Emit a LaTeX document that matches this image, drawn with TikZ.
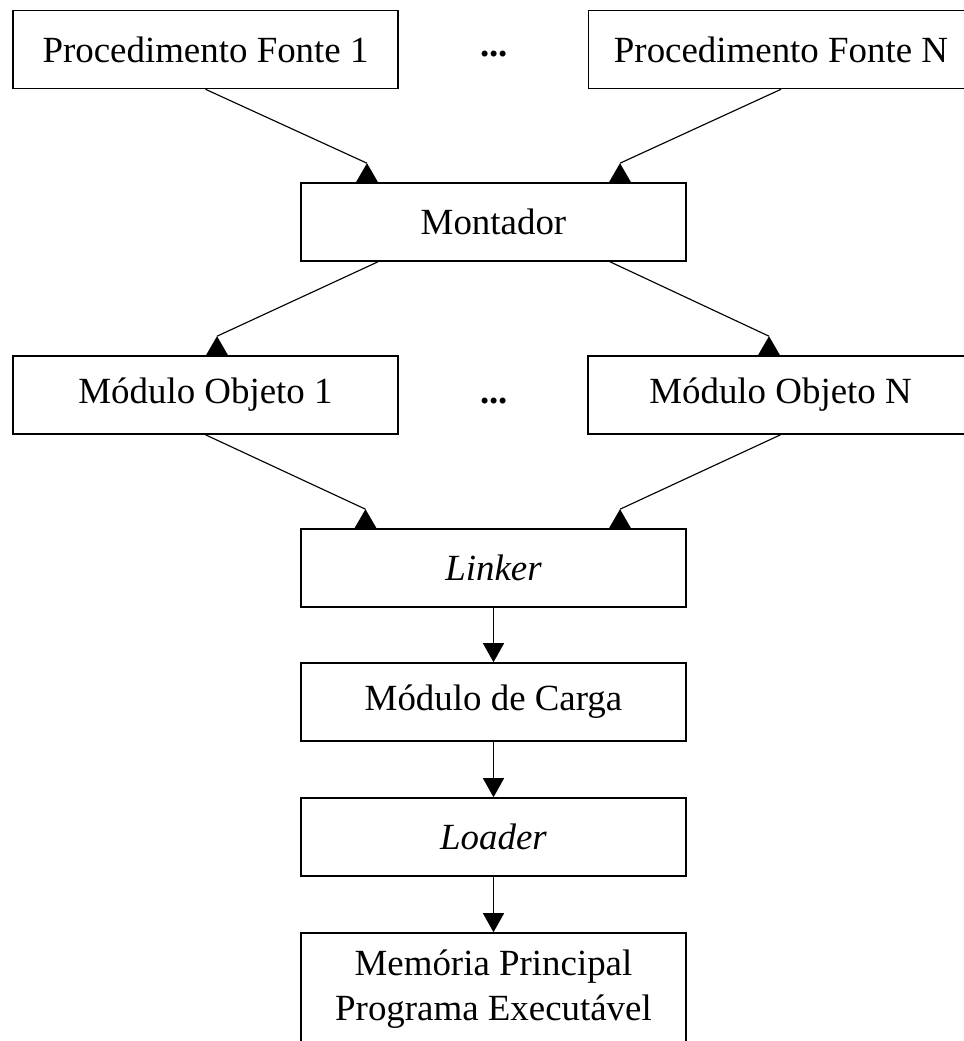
\documentclass[tikz,border=0pt]{standalone}
\usepackage{fontspec}
\setmainfont{Liberation Serif}
\usetikzlibrary{arrows.meta}

\begin{document}
\begin{tikzpicture}[
    every node/.style={font=\fontsize{21}{25.5}\selectfont},
    etapa/.style={draw, line width=0.9pt, minimum width=7.7cm, minimum height=1.56cm, align=center, inner sep=0pt},
    liga/.style={line width=0.65pt},
    desce/.style={line width=0.65pt, -{Triangle[length=0.38cm,width=0.42cm]}}
]
    % Frame of the picture
    \useasboundingbox (0,0) rectangle (19.26,-20.82);

    % Source procedures
    \node[etapa] (pf1) at (4.11,-0.99) {Procedimento Fonte 1};
    \node[anchor=base] (pont1) at (9.88,-1.13) {\textbf{...}};
    \node[etapa] (pfn) at (15.62,-0.99) {Procedimento Fonte N};

    % Assembler
    \node[etapa] (mont) at (9.87,-4.44) {Montador};

    % Object modules
    \node[etapa] (mo1) at (4.11,-7.90) {Módulo Objeto 1};
    \node[anchor=base] (pont2) at (9.88,-8.06) {\textbf{...}};
    \node[etapa] (mon) at (15.61,-7.90) {Módulo Objeto N};

    % Linker, load module, loader, memory
    \node[etapa] (link) at (9.87,-11.36) {\textit{Linker}};
    \node[etapa] (carga) at (9.87,-14.04) {Módulo de Carga};
    \node[etapa] (load) at (9.87,-16.74) {\textit{Loader}};
    \node[etapa, minimum height=2.24cm] (mem) at (9.87,-19.78) {Memória Principal\\Programa Executável};

    % Tips of the slanted connectors (apex of each triangle)
    \coordinate (a1) at ([xshift=-2.53cm,yshift=0.38cm]mont.north);
    \coordinate (a2) at ([xshift=2.53cm,yshift=0.38cm]mont.north);
    \coordinate (a3) at ([xshift=0.23cm,yshift=0.38cm]mo1.north);
    \coordinate (a4) at ([xshift=-0.23cm,yshift=0.38cm]mon.north);
    \coordinate (a5) at ([xshift=-2.56cm,yshift=0.38cm]link.north);
    \coordinate (a6) at ([xshift=2.53cm,yshift=0.38cm]link.north);

    % Slanted connectors
    \draw[liga] (pf1.south) -- (a1);
    \draw[liga] (pfn.south) -- (a2);
    \draw[liga] ([xshift=-2.31cm]mont.south) -- (a3);
    \draw[liga] ([xshift=2.33cm]mont.south) -- (a4);
    \draw[liga] (mo1.south) -- (a5);
    \draw[liga] (mon.south) -- (a6);
    \foreach \t in {a1,a2,a3,a4,a5,a6} {
        \fill (\t) -- ++(-0.22,-0.38) -- ++(0.44,0) -- cycle;
    }

    % Straight connectors
    \draw[desce] (link) -- (carga);
    \draw[desce] (carga) -- (load);
    \draw[desce] (load) -- (mem);

\end{tikzpicture}
\end{document}
